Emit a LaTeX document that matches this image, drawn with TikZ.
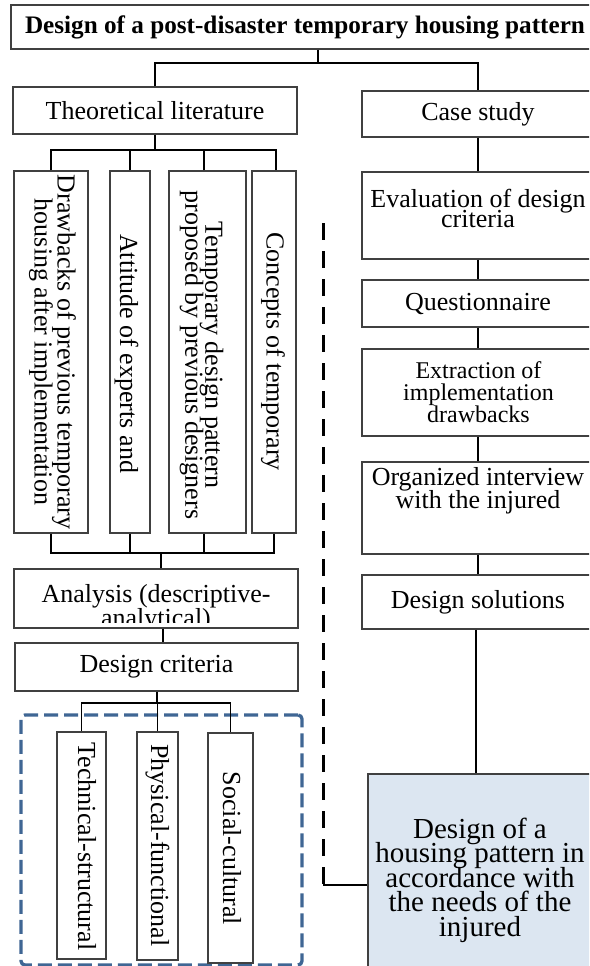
\documentclass[tikz,border=0pt]{standalone}
\usepackage{fontspec}
\setmainfont{Liberation Serif}
\usetikzlibrary{calc}
\definecolor{boxline}{HTML}{404040}
\definecolor{finalfill}{HTML}{DCE6F1}
\definecolor{dashblue}{HTML}{3F6694}
\newcommand\tightlines{\lineskiplimit=-100pt\lineskip=0pt}
\newcommand\fs[2]{\fontsize{#1}{#2}\selectfont\tightlines}
\tikzset{
  boxnode/.style={draw=boxline, line width=1.1pt, rectangle, inner sep=0pt, font=\fs{26}{22}, align=center},
  txt/.style={inner sep=0pt, align=center, font=\fs{26}{22}},
  conn/.style={line width=1.6pt, black},
  thinconn/.style={line width=1.3pt, black},
  blackdash/.style={line width=3pt, black, dash pattern=on 17pt off 11pt},
  groupframe/.style={draw=dashblue, line width=3.3pt, dash pattern=on 14pt off 6pt, rounded corners=4pt, rectangle, inner sep=0pt}
}
\begin{document}
\begin{tikzpicture}[x=1pt,y=-1pt]
\useasboundingbox (0,0) rectangle (589,966);
\clip (0,0) rectangle (589,966);

% group frame
\node[groupframe, minimum width=281pt, minimum height=250pt] (grp) at (161.5,840) {};

% title and first level
\node[boxnode, minimum width=588pt, minimum height=44pt, font=\bfseries\fs{25.2}{28}] (title) at (305,27) {Design of a post-disaster temporary housing pattern};
\node[boxnode, minimum width=284pt, minimum height=47pt] (theo) at (155,110.5) {Theoretical literature};
\node[boxnode, minimum width=232pt, minimum height=46pt] (case) at (478,114) {Case study};

% left vertical boxes
\node[boxnode, minimum width=74pt, minimum height=362pt] (d1) at (51,352) {};
\node[boxnode, minimum width=40pt, minimum height=362pt] (d2) at (130,352) {};
\node[boxnode, minimum width=77pt, minimum height=362pt] (d3) at (207.5,352) {};
\node[boxnode, minimum width=44pt, minimum height=362pt] (d4) at (274,352) {};
\node[txt, rotate=-90, font=\fs{26}{23}] (d1t) at (52.5,352) {Drawbacks of previous temporary\\housing after implementation};
\node[txt, rotate=-90] (d2t) at (126.5,353.5) {Attitude of experts and};
\node[txt, rotate=-90, font=\fs{26}{20}] (d3t) at (201.5,355) {Temporary design pattern\\proposed by previous designers};
\node[txt, rotate=-90] (d4t) at (273,351.5) {Concepts of temporary};

% analysis and criteria
\node[boxnode, minimum width=284pt, minimum height=59pt] (analysis) at (156,598.5) {};
\begin{scope}
  \clip (14,569) rectangle (298,622);
  \node[txt, font=\fs{26}{24}] (anat) at (156,608) {Analysis (descriptive-\\analytical)};
\end{scope}
\node[boxnode, minimum width=283pt, minimum height=48pt] (criteria) at (156.5,667) {Design criteria};

% criteria boxes
\node[boxnode, minimum width=49pt, minimum height=227pt] (tech) at (81.5,845.5) {};
\node[boxnode, minimum width=41pt, minimum height=228pt] (phys) at (157.5,846) {};
\node[boxnode, minimum width=45pt, minimum height=230pt] (soc) at (230.5,848) {};
\node[txt, rotate=-90] (techt) at (87,846.5) {Technical-structural};
\node[txt, rotate=-90] (physt) at (157.5,845.5) {Physical-functional};
\node[txt, rotate=-90] (soct) at (232,848.5) {Social-cultural};

% right column
\node[boxnode, minimum width=232pt, minimum height=87pt] (eval) at (478,215.5) {};
\node[txt, font=\fs{26}{20}] (evalt) at (478,208) {Evaluation of design\\criteria};
\node[boxnode, minimum width=232pt, minimum height=47pt] (quest) at (478,303.5) {Questionnaire};
\node[boxnode, minimum width=232pt, minimum height=87pt] (extr) at (478,392.5) {};
\node[txt, font=\fs{24}{22}] (extrt) at (478.5,392) {Extraction of\\implementation\\drawbacks};
\node[boxnode, minimum width=232pt, minimum height=92pt] (org) at (478,508) {};
\node[txt, font=\fs{26}{23}] (orgt) at (478,490.4) {Organized interview\\with the injured};
\node[boxnode, minimum width=232pt, minimum height=54pt] (sol) at (478,602) {Design solutions};
\node[boxnode, fill=finalfill, minimum width=224pt, minimum height=212pt, font=\fs{29}{24.5}] (final) at (480,880) {Design of a\\housing pattern in\\accordance with\\the needs of the\\injured};

% connectors: top
\coordinate (j0) at (318,63);
\draw[conn] (title.south -| j0) -- (j0);
\draw[conn] (theo.north) |- (j0) -| (case.north);

\coordinate (j1) at (155,150);
\draw[conn] (theo.south) -- (j1);
\draw[conn] (d1.north) |- (j1) -| ([xshift=2pt]d4.north);
\draw[conn] (d2.north) -- (d2.north |- j1);
\draw[conn] ([xshift=-3.5pt]d3.north) -- ([xshift=-3.5pt]d3.north |- j1);

\coordinate (j2) at (161,553);
\draw[conn] (d1.south) |- (j2) -| (d4.south);
\draw[conn] (d2.south) -- (d2.south |- j2);
\draw[conn] ([xshift=-3.5pt]d3.south) -- ([xshift=-3.5pt]d3.south |- j2);
\draw[conn] (j2) -- (j2 |- analysis.north);

\draw[conn] ([xshift=7pt]analysis.south) -- ([xshift=7pt]analysis.south |- criteria.north);

\coordinate (j3) at (157,703);
\draw[conn] (criteria.south -| j3) -- (j3);
\draw[conn] (tech.north) |- (j3) -| (soc.north);
\draw[conn] (phys.north) -- (phys.north |- j3);

% connectors: right column
\draw[conn] (case.south) -- (eval.north);
\draw[conn] (eval.south) -- (quest.north);
\draw[conn] (quest.south) -- (extr.north);
\draw[conn] (extr.south) -- (org.north);
\draw[conn] (org.south) -- (sol.north);
\draw[conn] ([xshift=-2pt]sol.south) -- ([xshift=-2pt]sol.south |- final.north);

% dashed feedback line
\coordinate (dtop) at (323,223);
\coordinate (dcorner) at (323,885);
\draw[blackdash] (dtop) -- (dcorner);
\draw[thinconn] (dcorner) -- (dcorner -| final.west);
\end{tikzpicture}
\end{document}
